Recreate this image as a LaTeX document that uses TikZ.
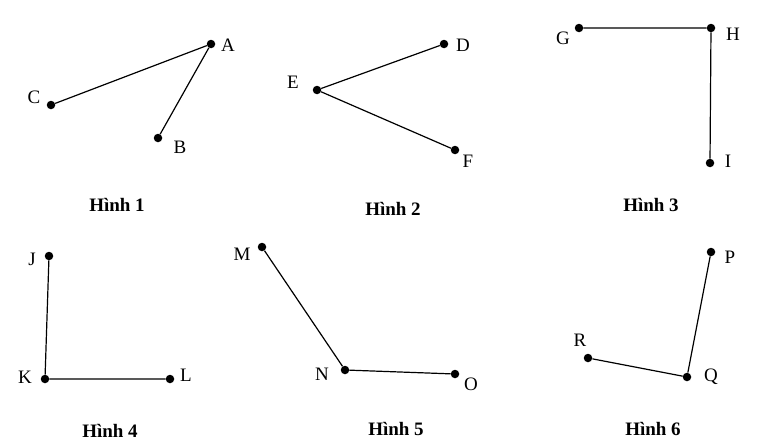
\documentclass[tikz,border=0pt]{standalone}
\usepackage{fontspec}
\setmainfont{Liberation Serif}
\begin{document}
\begin{tikzpicture}[x=1pt,y=-1pt,
  pt/.style={circle,fill=black,inner sep=0pt,minimum size=8.5pt},
  lab/.style={font=\fontsize{19}{19}\selectfont},
  figcap/.style={font=\bfseries\fontsize{19}{19}\selectfont},
  seg/.style={line width=1.2pt}]
\useasboundingbox (0,0) rectangle (771,447);
\node[pt] (A) at (211,44) {}; \node[pt] (B) at (158,138) {}; \node[pt] (C) at (51,105) {};
\node[pt] (D) at (444,44) {}; \node[pt] (E) at (317,90) {}; \node[pt] (F) at (455,150) {};
\node[pt] (G) at (579,28) {}; \node[pt] (H) at (711,28) {}; \node[pt] (I) at (710,163) {};
\node[pt] (J) at (49,256) {}; \node[pt] (K) at (45,379) {}; \node[pt] (L) at (170,379) {};
\node[pt] (M) at (262,247) {}; \node[pt] (N) at (345,370) {}; \node[pt] (O) at (455,374) {};
\node[pt] (P) at (711,252) {}; \node[pt] (Q) at (687,377) {}; \node[pt] (R) at (588,358) {};
\draw[seg] (C)--(A)--(B);
\draw[seg] (D)--(E)--(F);
\draw[seg] (G)--(H)--(I);
\draw[seg] (J)--(K)--(L);
\draw[seg] (M)--(N)--(O);
\draw[seg] (P)--(Q)--(R);
\node[lab] (lA) at (228,45) {A}; \node[lab] (lB) at (180,147) {B}; \node[lab] (lC) at (34,97) {C};
\node[lab] (lD) at (463,45) {D}; \node[lab] (lE) at (293,82) {E}; \node[lab] (lF) at (468,161) {F};
\node[lab] (lG) at (563,38) {G}; \node[lab] (lH) at (733,34) {H}; \node[lab] (lI) at (728,161) {I};
\node[lab] (lJ) at (32,259) {J}; \node[lab] (lK) at (25,377) {K}; \node[lab] (lL) at (186,375) {L};
\node[lab] (lM) at (242,254) {M}; \node[lab] (lN) at (322,374) {N}; \node[lab] (lO) at (471,384) {O};
\node[lab] (lP) at (730,257) {P}; \node[lab] (lQ) at (711,377) {Q}; \node[lab] (lR) at (580,340) {R};
\node[figcap] (h1) at (117,205) {Hình 1}; \node[figcap] (h2) at (393,209) {Hình 2};
\node[figcap] (h3) at (651,205) {Hình 3}; \node[figcap] (h4) at (110,431) {Hình 4};
\node[figcap] (h5) at (396,429) {Hình 5}; \node[figcap] (h6) at (653,429) {Hình 6};
\end{tikzpicture}
\end{document}
